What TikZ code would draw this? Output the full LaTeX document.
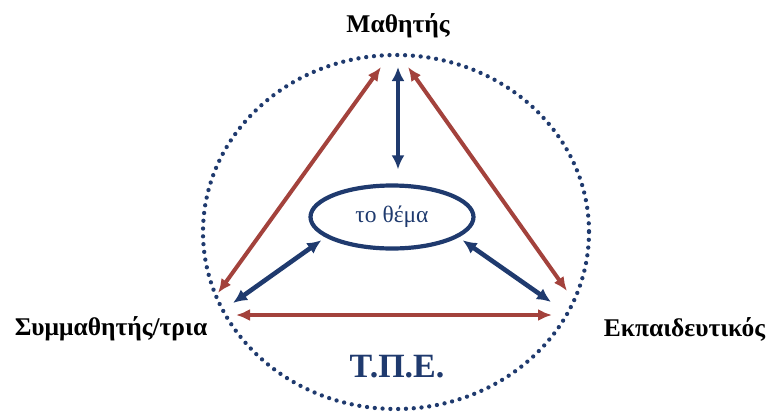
\documentclass[tikz,border=0pt]{standalone}
\usepackage{fontspec}
\setmainfont{Liberation Serif}
\usetikzlibrary{arrows.meta,shapes.geometric,positioning,calc}
\definecolor{navy}{HTML}{1F3A6E}
\definecolor{brick}{HTML}{A3423C}

\begin{document}
\begin{tikzpicture}[x=1pt,y=-1pt,
  role/.style={font=\bfseries\fontsize{25.5}{28}\selectfont},
  redlink/.style={{Latex[length=14pt,width=12pt]}-{Latex[length=14pt,width=12pt]}, line width=4pt, brick},
  bluelink/.style={{Latex[length=14pt,width=13pt]}-{Latex[length=14pt,width=13pt]}, line width=4.6pt, navy}]
\useasboundingbox (0,0) rectangle (771,413);
% dotted boundary of the class
\draw[navy, line width=4.3pt, line cap=round, dash pattern=on 0pt off 7.8pt] (396,232) ellipse [x radius=193, y radius=177];
% the three roles
\node[role] (student) at (398,26) {Μαθητής};
\node[role] (peer) at (111,329) {Συμμαθητής/τρια};
\node[role] (teacher) at (684.5,329) {Εκπαιδευτικός};
% topic in the middle
\node[draw=navy, line width=4.2pt, ellipse, minimum width=163pt, minimum height=63pt, text=navy, font=\fontsize{23.5}{26}\selectfont] (topic) at (392,217) {το θέμα};
\node[text=navy, font=\bfseries\fontsize{34}{38}\selectfont] (tpe) at (397,367) {Τ.Π.Ε.};
% arrow ends near the boundary
\coordinate (sL) at (381,67);
\coordinate (sM) at (398,67);
\coordinate (sR) at (408,67);
\coordinate (pT) at (218,293);
\coordinate (pM) at (233,303);
\coordinate (pB) at (236,315);
\coordinate (tT) at (567,291);
\coordinate (tM) at (551,302);
\coordinate (tB) at (552,315);
% relations between the roles
\draw[redlink] (pT) -- (sL);
\draw[redlink] (tT) -- (sR);
\draw[redlink] (pB) -- (tB);
% relations with the topic
\draw[bluelink, shorten >=14pt] (sM) -- (sM |- topic.north);
\draw[bluelink, shorten >=5pt] (pM) -- (topic.197);
\draw[bluelink, shorten >=5pt] (tM) -- (topic.343);
\end{tikzpicture}
\end{document}
